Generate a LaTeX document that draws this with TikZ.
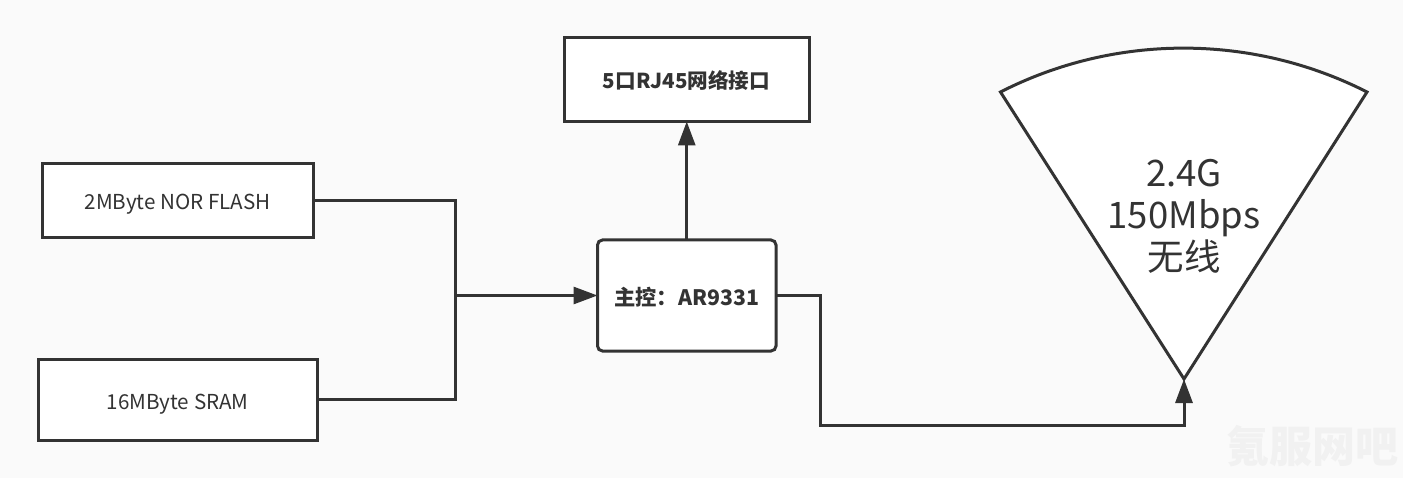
\documentclass[tikz,border=0pt]{standalone}
\usepackage{fontspec}
\setmainfont{Noto Sans CJK SC}
\usetikzlibrary{arrows.meta}
\definecolor{ink}{HTML}{333333}
\definecolor{paper}{HTML}{FAFAFA}
\definecolor{mark}{HTML}{F1F1F1}
\tikzset{
  boxnode/.style={draw=ink,fill=white,line width=3pt,rectangle,outer sep=0pt,inner sep=0pt,text=ink},
  wire/.style={draw=ink,line width=3pt,line join=miter},
  wirearrow/.style={wire,-{Triangle[length=24pt,width=17pt]}}
}
\newcommand{\boxat}[7]{% name, x0, y0, x1, y1, extra, text
  \node[boxnode,#6,minimum width={(#4-#2)*1pt},minimum height={(#5-#3)*1pt}] (#1) at ({(#2+#4)/2},{(#3+#5)/2}) {#7};}
\begin{document}
\begin{tikzpicture}[x=1pt,y=-1pt]
\useasboundingbox (0,0) rectangle (1403,478);
\fill[paper] (0,0) rectangle (1403,478);
% watermark
\node[text=mark,font=\fontsize{43}{43}\selectfont\bfseries,inner sep=0pt] (wm) at (1312.5,446) {氪服网吧};
% sector
\coordinate (fanl) at (1000.5,92);
\coordinate (fanr) at (1367,92);
\coordinate (apex) at (1184,379);
\path[draw=ink,fill=white,line width=3pt,line join=miter] (apex) -- (fanl) .. controls (1115,33.5) and (1252,33.5) .. (fanr) -- cycle;
\node[text=ink,font=\fontsize{36.5}{42}\selectfont,align=center,inner sep=0pt] (fantxt) at (1184,216) {2.4G\\150Mbps\\无线};
% boxes
\boxat{flash}{42.5}{164}{313}{238}{font=\fontsize{20.6}{24}\selectfont}{\raisebox{-9pt}[0pt][0pt]{2MByte NOR FLASH}}
\boxat{sram}{38}{359}{317.5}{440}{font=\fontsize{20.6}{24}\selectfont}{\raisebox{-9.5pt}[0pt][0pt]{16MByte SRAM}}
\boxat{rj}{564}{37.5}{809}{121.5}{font=\fontsize{20.6}{24}\selectfont\bfseries}{\raisebox{-9.5pt}[0pt][0pt]{5口RJ45网络接口}}
\boxat{soc}{597.5}{240}{776}{351}{rounded corners=5pt,font=\fontsize{21.3}{24}\selectfont\bfseries}{\raisebox{-10pt}[0pt][0pt]{主控：AR9331}}
% connectors
\coordinate (hub) at (455.5,295.5);
\draw[wire] (flash.east) -| (hub);
\draw[wire] (sram.east) -| (hub);
\draw[wirearrow] (hub) -- (soc.west);
\draw[wirearrow] (soc.north) -- (soc.north |- rj.south);
\coordinate (bend) at (820.5,425);
\draw[wirearrow] (soc.east) -| (bend) -| (apex);
\end{tikzpicture}
\end{document}
